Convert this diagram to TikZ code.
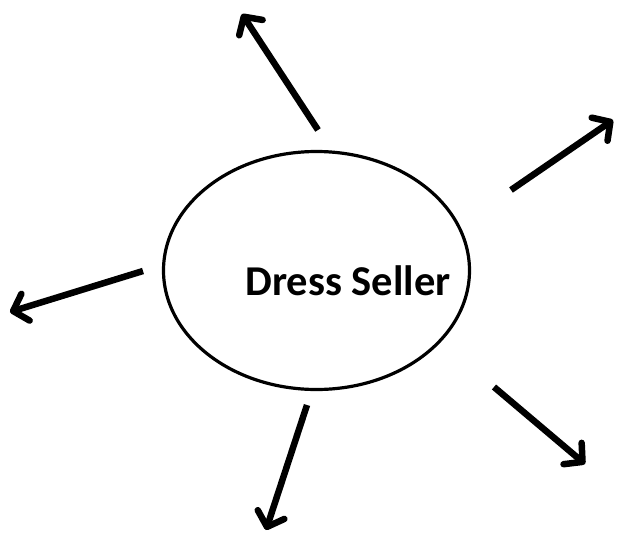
\documentclass[tikz,border=0pt]{standalone}
\usepackage{fontspec}
\setmainfont{Carlito}
\usetikzlibrary{arrows.meta}
\usetikzlibrary{shapes.geometric}

\begin{document}
\begin{tikzpicture}[x=1pt,y=-1pt,>={Straight Barb[length=13pt,width=28pt,line cap=round,line join=round]}]
	\useasboundingbox (0,0) rectangle (619,536);
	\node[draw,ellipse,line width=3.2pt,minimum width=306pt,minimum height=238pt,inner sep=0pt] (seller) at (316.5,270.5) {};
	\node[font=\fontsize{42.5}{50}\selectfont\bfseries] (label) at (348,281) {Dress Seller};

	% arrow ends
	\coordinate (t1) at (318,130);	\coordinate (h1) at (242,14);
	\coordinate (t2) at (511,190);	\coordinate (h2) at (613,120);
	\coordinate (t3) at (143,271);	\coordinate (h3) at (10,312);
	\coordinate (t4) at (307,405);	\coordinate (h4) at (266,530);
	\coordinate (t5) at (494,387);	\coordinate (h5) at (585,464);

	\foreach \i in {1,...,5}{
			\draw[->,line width=6.5pt] (t\i) -- (h\i);
	}
\end{tikzpicture}
\end{document}
